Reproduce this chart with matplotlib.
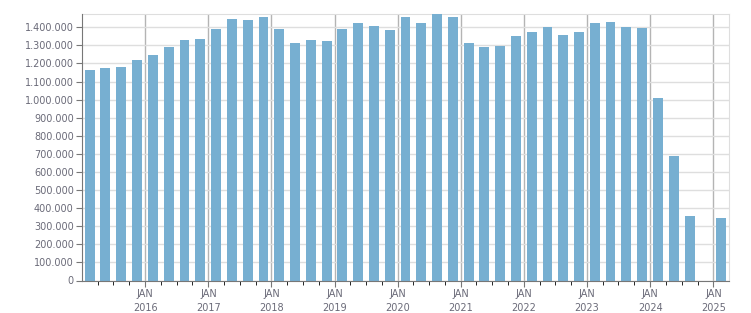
import matplotlib
matplotlib.use("Agg")
import matplotlib.pyplot as plt
import matplotlib.dates as mdates
from matplotlib.ticker import FuncFormatter, MultipleLocator
import numpy as np
import pandas as pd

# quarterly values, Q1 2015 .. Q1 2025 (Q4 2024 has no bar)
quarters = pd.period_range("2015Q1", "2025Q1", freq="Q")
values = [1162000, 1173000, 1179000, 1218000,
          1245000, 1289000, 1328000, 1334000,
          1389000, 1444000, 1439000, 1455000,
          1389000, 1311000, 1328000, 1323000,
          1389000, 1422000, 1405000, 1383000,
          1455000, 1422000, 1472000, 1455000,
          1311000, 1289000, 1295000, 1350000,
          1372000, 1400000, 1356000, 1372000,
          1422000, 1428000, 1400000, 1394000,
          1008000, 687000, 355000, np.nan,
          344000]
years = list(range(2016, 2026))

barColor = "#77afd1"
textColor = "#6a6a78"

# bar centred in the middle of each quarter
centers = [q.start_time + (q.end_time - q.start_time) / 2 for q in quarters]
xs = [mdates.date2num(c) for c, v in zip(centers, values) if not np.isnan(v)]
ys = [v for v in values if not np.isnan(v)]

fig = plt.figure(figsize=(7.51, 3.13), dpi=100)
ax = fig.add_axes([82 / 751, 1 - 280.5 / 313, 646.5 / 751, 267 / 313])

ax.bar(xs, ys, width=57, color=barColor, zorder=3)

# y axis
ax.yaxis.set_major_locator(MultipleLocator(100000))
ax.yaxis.set_major_formatter(FuncFormatter(lambda v, p: "{:,.0f}".format(v).replace(",", ".")))
ax.grid(axis="y", color="#dedede", linewidth=1, zorder=0)

# x axis: january lines with labels, quarter ticks
janTicks = [mdates.date2num(pd.Timestamp("%d-01-01" % y)) for y in years]
ax.set_xticks(janTicks)
ax.set_xticklabels(["JAN\n%d" % y for y in years])
qTicks = [mdates.date2num(pd.Timestamp("%d-%02d-01" % (y, m)))
          for y in range(2015, 2025) for m in (4, 7, 10)]
ax.set_xticks(qTicks, minor=True)
for t in janTicks:
    ax.axvline(t, color="#b4b4b4", linewidth=1, zorder=1)

ax.set_xlim(mdates.date2num(pd.Timestamp("2015-01-01")),
            mdates.date2num(pd.Timestamp("2025-03-29")))
ax.set_ylim(0, 1476000)

ax.tick_params(axis="both", labelsize=7, labelcolor=textColor, color="#777777")
ax.tick_params(axis="x", which="major", length=4, pad=2)
ax.tick_params(axis="x", which="minor", length=3)
ax.tick_params(axis="y", length=4, pad=2)

for lbl in ax.get_xticklabels():
    lbl.set_linespacing(1.5)

ax.spines["left"].set_color("#777777")
ax.spines["bottom"].set_color("#777777")
ax.spines["top"].set_color("#dedede")
ax.spines["right"].set_color("#dedede")
ax.spines["left"].set_zorder(4)
ax.spines["bottom"].set_zorder(4)

fig.savefig("out.png", dpi=100)
